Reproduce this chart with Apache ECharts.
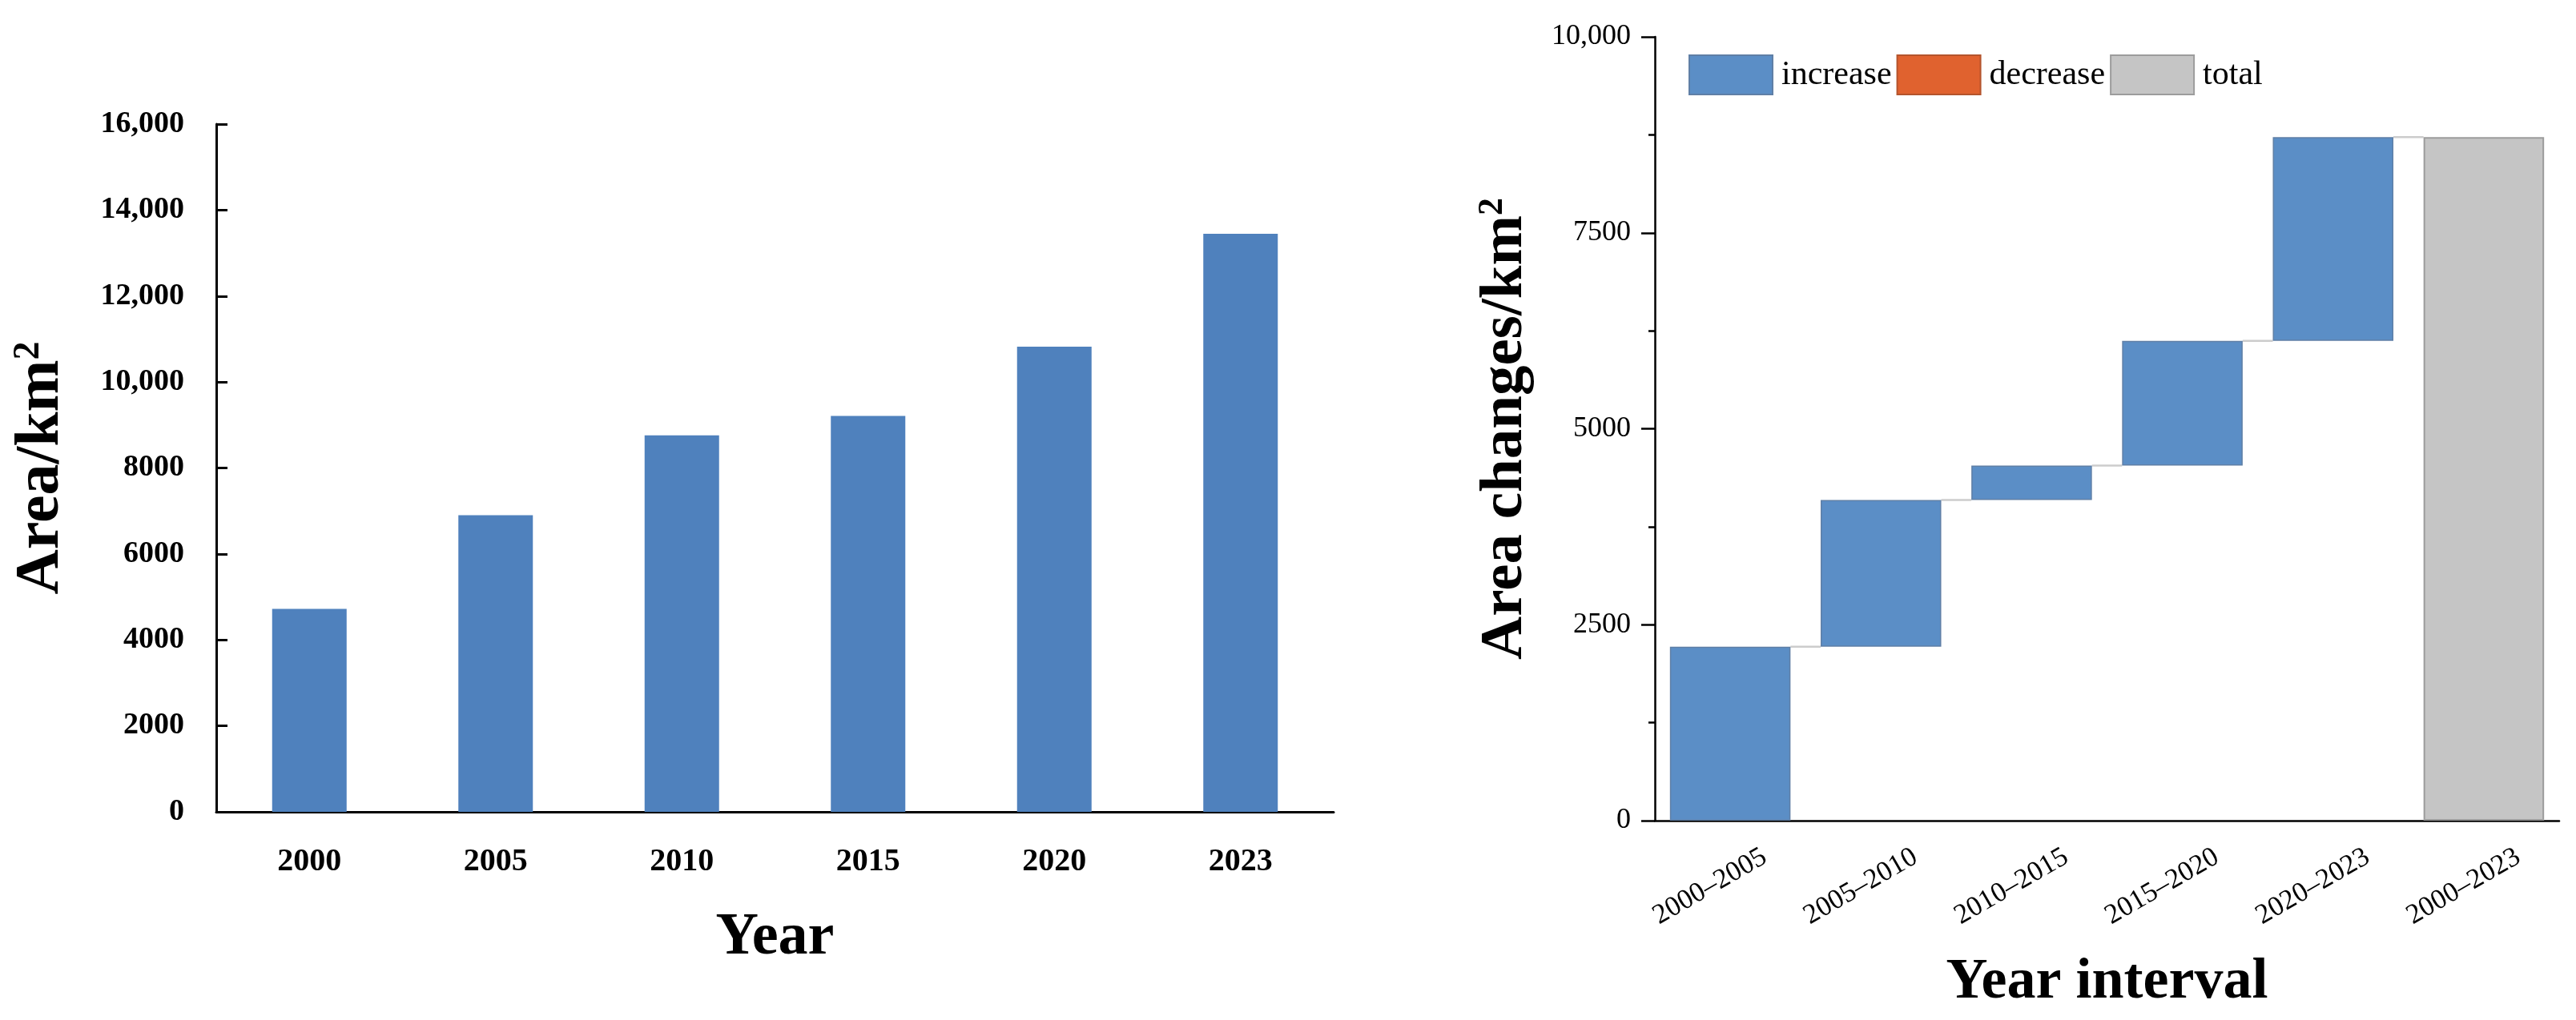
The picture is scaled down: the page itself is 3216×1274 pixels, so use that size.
<!DOCTYPE html>
<html>
<head>
<meta charset="utf-8">
<script src="https://cdn.jsdelivr.net/npm/echarts@6/dist/echarts.min.js"></script>
<style>
html,body{margin:0;padding:0;background:#fff;}
#chart{width:3216px;height:1274px;}
</style>
</head>
<body>
<div id="chart"></div>
<script>
// ---- Data ----
const years = ['2000', '2005', '2010', '2015', '2020', '2023'];
const areaValues = [4720, 6900, 8760, 9210, 10820, 13450];
const leftYTickLabels = ['0', '2000', '4000', '6000', '8000', '10,000', '12,000', '14,000', '16,000'];

const intervals = ['2000–2005', '2005–2010', '2010–2015', '2015–2020', '2020–2023', '2000–2023'];
const increaseValues = [2220, 1870, 440, 1590, 2600, null];
const decreaseValues = [null, null, null, null, null, null];
const totalValues = [null, null, null, null, null, 8720];
const rightYTickLabels = ['0', '2500', '5000', '7500', '10,000'];

// ---- Build waterfall helpers from data ----
const baseValues = [];
const cumulative = [];
let run = 0;
for (let i = 0; i < intervals.length; i++) {
  if (totalValues[i] != null) { baseValues.push(0); continue; }
  const inc = increaseValues[i] || 0, dec = decreaseValues[i] || 0;
  baseValues.push(dec ? run - dec : run);
  run = run + inc - dec;
  cumulative.push([i, run]);
}
const toSeries = arr => arr.map(v => v == null ? '-' : v);

const FONT = 'Liberation Serif';
const chart = echarts.init(document.getElementById('chart'), null, {renderer: 'canvas'});

const option = {
  backgroundColor: '#ffffff',
  animation: false,
  textStyle: {fontFamily: FONT, color: '#000'},
  grid: [
    {left: 270, top: 155, width: 1395, bottom: 260, containLabel: false},
    {left: 2066, top: 46, right: 21, bottom: 249, containLabel: false}
  ],
  legend: {
    left: 2103, top: 63,
    itemWidth: 104, itemHeight: 49, itemGap: 6,
    icon: 'rect',
    data: ['increase', 'decrease', 'total'],
    textStyle: {fontFamily: FONT, fontSize: 42, color: '#000', padding: [0, 0, 0, 6]}
  },
  xAxis: [
    {
      type: 'category', gridIndex: 0, data: years,
      axisLine: {lineStyle: {color: '#000', width: 3}},
      axisTick: {alignWithLabel: true, inside: true, length: 12, lineStyle: {color: '#000', width: 3}},
      axisLabel: {fontFamily: FONT, fontSize: 40, fontWeight: 'bold', color: '#000', margin: 43},
      name: 'Year', nameLocation: 'middle', nameGap: 121,
      nameTextStyle: {fontFamily: FONT, fontSize: 74, fontWeight: 'bold', color: '#000'}
    },
    {
      type: 'category', gridIndex: 1, data: intervals,
      axisLine: {lineStyle: {color: '#000', width: 2.5}},
      axisTick: {alignWithLabel: false, inside: true, length: 8, lineStyle: {color: '#000', width: 2.5}},
      axisLabel: {fontFamily: FONT, fontSize: 35, color: '#000', rotate: 30, interval: 0,
                  align: 'center', verticalAlign: 'middle', padding: [0, 58, 0, 0], margin: 68},
      name: 'Year interval', nameLocation: 'middle', nameGap: 166,
      nameTextStyle: {fontFamily: FONT, fontSize: 72, fontWeight: 'bold', color: '#000'}
    },
    {
      type: 'category', gridIndex: 1, data: intervals, position: 'bottom',
      axisLine: {show: false},
      axisTick: {alignWithLabel: true, inside: true, length: 15, lineStyle: {color: '#000', width: 2.5}},
      axisLabel: {show: false}
    }
  ],
  yAxis: [
    {
      type: 'value', gridIndex: 0, min: 0, max: 16000, interval: 2000,
      splitLine: {show: false},
      axisLine: {show: true, lineStyle: {color: '#000', width: 3}},
      axisTick: {show: true, inside: true, length: 14, lineStyle: {color: '#000', width: 3}},
      axisLabel: {fontFamily: FONT, fontSize: 38, fontWeight: 'bold', color: '#000', margin: 40,
                  formatter: v => leftYTickLabels[Math.round(v / 2000)]},
      name: 'Area/km{sup|2}', nameLocation: 'middle', nameGap: 179,
      nameTextStyle: {fontFamily: FONT, fontSize: 78, fontWeight: 'bold', color: '#000',
        rich: {sup: {fontFamily: FONT, fontSize: 46, fontWeight: 'bold', color: '#000', verticalAlign: 'top'}}}
    },
    {
      type: 'value', gridIndex: 1, min: 0, max: 10000, interval: 2500,
      splitLine: {show: false},
      axisLine: {show: true, lineStyle: {color: '#000', width: 2.5}},
      axisTick: {show: true, inside: false, length: 17, lineStyle: {color: '#000', width: 2.5}},
      minorTick: {show: true, splitNumber: 2, length: 8, lineStyle: {color: '#000', width: 2.5}},
      axisLabel: {fontFamily: FONT, fontSize: 36, color: '#000', margin: 30,
                  formatter: v => rightYTickLabels[Math.round(v / 2500)]},
      name: 'Area changes/km{sup|2}', nameLocation: 'middle', nameGap: 149,
      nameTextStyle: {fontFamily: FONT, fontSize: 75, fontWeight: 'bold', color: '#000',
        rich: {sup: {fontFamily: FONT, fontSize: 44, fontWeight: 'bold', color: '#000', verticalAlign: 'top'}}}
    }
  ],
  series: [
    {
      name: 'Area', type: 'bar', xAxisIndex: 0, yAxisIndex: 0,
      data: areaValues, barWidth: '40%',
      itemStyle: {color: '#4F81BD'}
    },
    {
      name: 'base', type: 'bar', xAxisIndex: 1, yAxisIndex: 1, stack: 'wf',
      data: baseValues, barWidth: '80%', silent: true,
      itemStyle: {color: 'rgba(0,0,0,0)', borderColor: 'rgba(0,0,0,0)'}
    },
    {
      name: 'increase', type: 'bar', xAxisIndex: 1, yAxisIndex: 1, stack: 'wf',
      data: toSeries(increaseValues), barWidth: '80%',
      itemStyle: {color: '#5B8EC6', borderColor: '#5f7fa6', borderWidth: 1.5}
    },
    {
      name: 'decrease', type: 'bar', xAxisIndex: 1, yAxisIndex: 1, stack: 'wf',
      data: toSeries(decreaseValues), barWidth: '80%',
      itemStyle: {color: '#E0622F', borderColor: '#b4542c', borderWidth: 1.5}
    },
    {
      name: 'total', type: 'bar', xAxisIndex: 1, yAxisIndex: 1, stack: 'wf',
      data: toSeries(totalValues), barWidth: '80%',
      itemStyle: {color: '#C5C5C5', borderColor: '#9c9c9c', borderWidth: 2}
    },
    {
      name: 'connector', type: 'custom', xAxisIndex: 1, yAxisIndex: 1,
      data: cumulative, z: 1, silent: true,
      renderItem: function (params, api) {
        const p = api.coord([api.value(0), api.value(1)]);
        const band = api.size([1, 0])[0];
        const bw = band * 0.8;
        return {
          type: 'line',
          shape: {x1: p[0] + bw / 2, y1: p[1], x2: p[0] + band - bw / 2, y2: p[1]},
          style: {stroke: '#cccccc', lineWidth: 2.5}
        };
      }
    }
  ]
};
chart.setOption(option);
</script>
</body>
</html>
